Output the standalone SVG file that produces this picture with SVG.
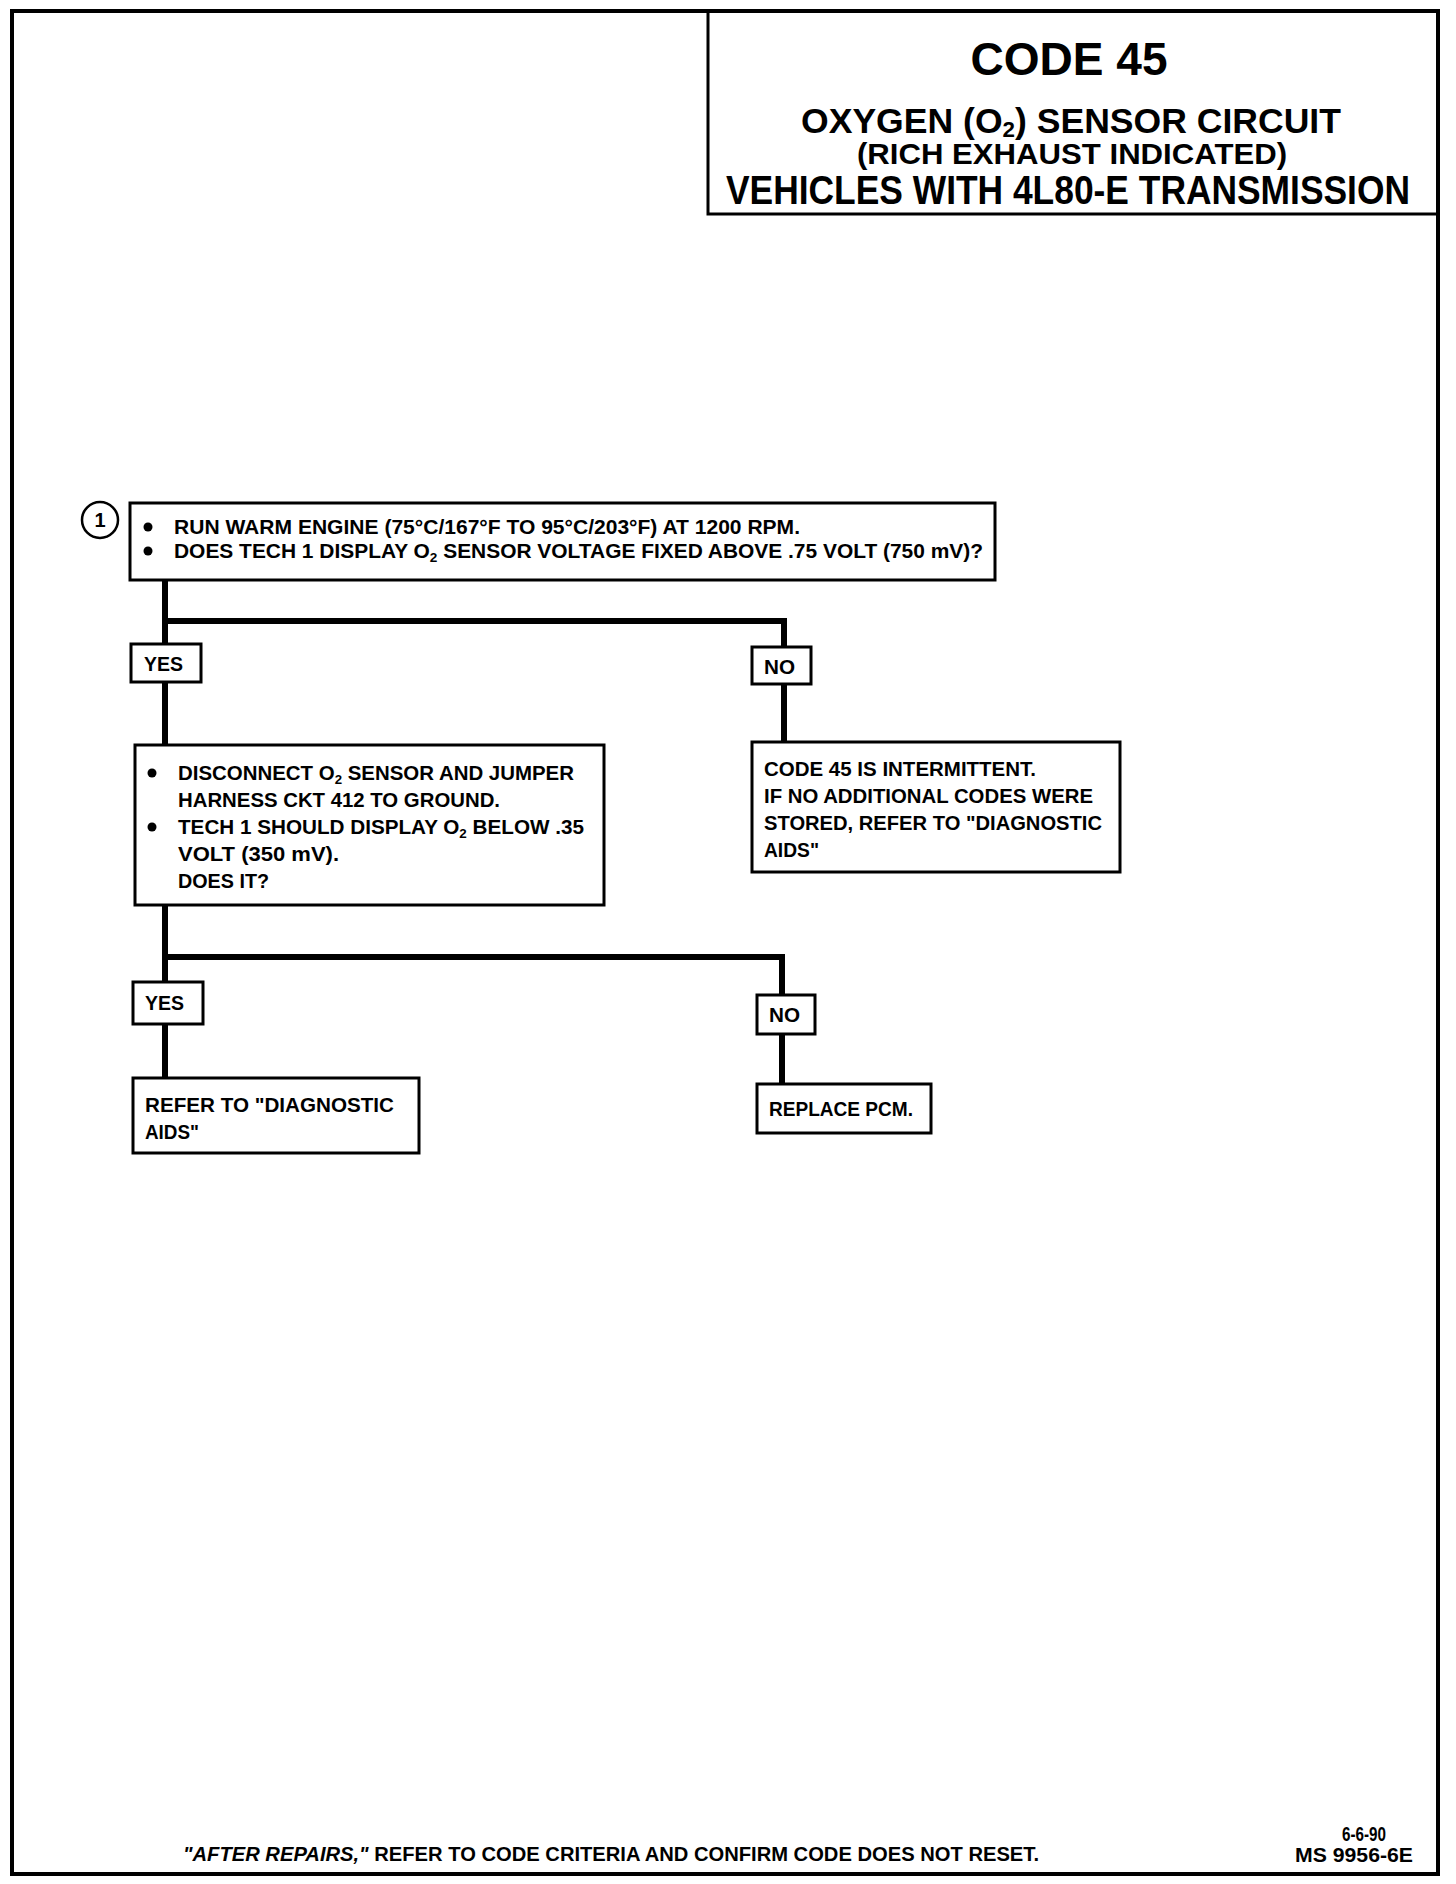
<svg xmlns="http://www.w3.org/2000/svg" width="1456" height="1884" viewBox="0 0 1456 1884">
<style>
text{font-family:"Liberation Sans",Arial,sans-serif;font-weight:bold;fill:#000}
.t{font-size:20px}
.box{fill:#fff;stroke:#000;stroke-width:3}
.lbl{fill:#fff;stroke:#000;stroke-width:3}
.conn{fill:none;stroke:#000;stroke-width:6}
.frame{fill:none;stroke:#000;stroke-width:4}
.sub{font-size:13px}
</style>
<rect x="0" y="0" width="1456" height="1884" fill="#fff"/>
<rect class="frame" x="12" y="11" width="1426" height="1863"/>
<g id="title">
<rect class="frame" x="708" y="11" width="730" height="203" style="stroke-width:3"/>
<text x="1069" y="75" text-anchor="middle" font-size="47" textLength="197" lengthAdjust="spacingAndGlyphs">CODE 45</text>
<text x="801" y="133" font-size="35" textLength="540" lengthAdjust="spacingAndGlyphs">OXYGEN (O<tspan font-size="22" dy="4">2</tspan><tspan dy="-4">) SENSOR CIRCUIT</tspan></text>
<text x="857" y="164" font-size="30" textLength="430" lengthAdjust="spacingAndGlyphs">(RICH EXHAUST INDICATED)</text>
<text x="726" y="204" font-size="40" textLength="684" lengthAdjust="spacingAndGlyphs">VEHICLES WITH 4L80-E TRANSMISSION</text>
</g>
<g id="connectors">
<path class="conn" d="M165 580 V646 M165 621 H784 V649"/>
<path class="conn" d="M165 682 V745 M784 684 V742"/>
<path class="conn" d="M165 905 V983 M165 957 H782 V995"/>
<path class="conn" d="M165 1024 V1078 M782 1034 V1084"/>
</g>
<g id="step1">
<circle cx="100" cy="520" r="18" fill="#fff" stroke="#000" stroke-width="2.5"/>
<text x="100" y="527" text-anchor="middle" font-size="20">1</text>
<rect class="box" x="130" y="503" width="865" height="77"/>
<circle cx="148" cy="527" r="4.5"/>
<text class="t" x="174" y="534" textLength="626" lengthAdjust="spacingAndGlyphs">RUN WARM ENGINE  (75°C/167°F TO 95°C/203°F) AT 1200 RPM.</text>
<circle cx="148" cy="551" r="4.5"/>
<text class="t" x="174" y="558" textLength="809" lengthAdjust="spacingAndGlyphs">DOES TECH 1 DISPLAY O<tspan class="sub" dy="4">2</tspan><tspan dy="-4"> SENSOR  VOLTAGE  FIXED ABOVE .75 VOLT  (750 mV)?</tspan></text>
</g>
<g id="yes1">
<rect class="lbl" x="131" y="644" width="70" height="38"/>
<text class="t" x="144" y="671" textLength="39" lengthAdjust="spacingAndGlyphs">YES</text>
</g>
<g id="no1">
<rect class="lbl" x="752" y="647" width="59" height="37"/>
<text class="t" x="764" y="674" textLength="31" lengthAdjust="spacingAndGlyphs">NO</text>
</g>
<g id="step2">
<rect class="box" x="135" y="745" width="469" height="160"/>
<circle cx="152" cy="773" r="4.5"/>
<text class="t" x="178" y="780" textLength="396" lengthAdjust="spacingAndGlyphs">DISCONNECT O<tspan class="sub" dy="4">2</tspan><tspan dy="-4"> SENSOR AND JUMPER</tspan></text>
<text class="t" x="178" y="807" textLength="322" lengthAdjust="spacingAndGlyphs">HARNESS CKT 412 TO GROUND.</text>
<circle cx="152" cy="827" r="4.5"/>
<text class="t" x="178" y="834" textLength="406" lengthAdjust="spacingAndGlyphs">TECH 1 SHOULD DISPLAY O<tspan class="sub" dy="4">2</tspan><tspan dy="-4"> BELOW .35</tspan></text>
<text class="t" x="178" y="861" textLength="161" lengthAdjust="spacingAndGlyphs">VOLT  (350 mV).</text>
<text class="t" x="178" y="888" textLength="91" lengthAdjust="spacingAndGlyphs">DOES IT?</text>
</g>
<g id="intermittent">
<rect class="box" x="752" y="742" width="368" height="130"/>
<text class="t" x="764" y="776" textLength="272" lengthAdjust="spacingAndGlyphs">CODE 45 IS INTERMITTENT.</text>
<text class="t" x="764" y="803" textLength="329" lengthAdjust="spacingAndGlyphs">IF NO ADDITIONAL CODES WERE</text>
<text class="t" x="764" y="830" textLength="338" lengthAdjust="spacingAndGlyphs">STORED, REFER TO "DIAGNOSTIC</text>
<text class="t" x="764" y="857" textLength="55" lengthAdjust="spacingAndGlyphs">AIDS"</text>
</g>
<g id="yes2">
<rect class="lbl" x="133" y="982" width="70" height="42"/>
<text class="t" x="145" y="1010" textLength="39" lengthAdjust="spacingAndGlyphs">YES</text>
</g>
<g id="no2">
<rect class="lbl" x="757" y="995" width="58" height="39"/>
<text class="t" x="769" y="1022" textLength="31" lengthAdjust="spacingAndGlyphs">NO</text>
</g>
<g id="diagaids">
<rect class="box" x="133" y="1078" width="286" height="75"/>
<text class="t" x="145" y="1112" textLength="249" lengthAdjust="spacingAndGlyphs">REFER TO  "DIAGNOSTIC</text>
<text class="t" x="145" y="1139" textLength="54" lengthAdjust="spacingAndGlyphs">AIDS"</text>
</g>
<g id="replacepcm">
<rect class="box" x="757" y="1084" width="174" height="49"/>
<text class="t" x="769" y="1116" textLength="144" lengthAdjust="spacingAndGlyphs">REPLACE PCM.</text>
</g>
<g id="footer">
<text class="t" x="183" y="1861" textLength="856" lengthAdjust="spacingAndGlyphs"><tspan font-style="italic">"AFTER REPAIRS,"</tspan> REFER TO CODE CRITERIA  AND CONFIRM CODE DOES NOT RESET.</text>
<text class="t" x="1386" y="1841" text-anchor="end" textLength="44" lengthAdjust="spacingAndGlyphs">6-6-90</text>
<text class="t" x="1413" y="1862" text-anchor="end" textLength="118" lengthAdjust="spacingAndGlyphs">MS 9956-6E</text>
</g>
</svg>
